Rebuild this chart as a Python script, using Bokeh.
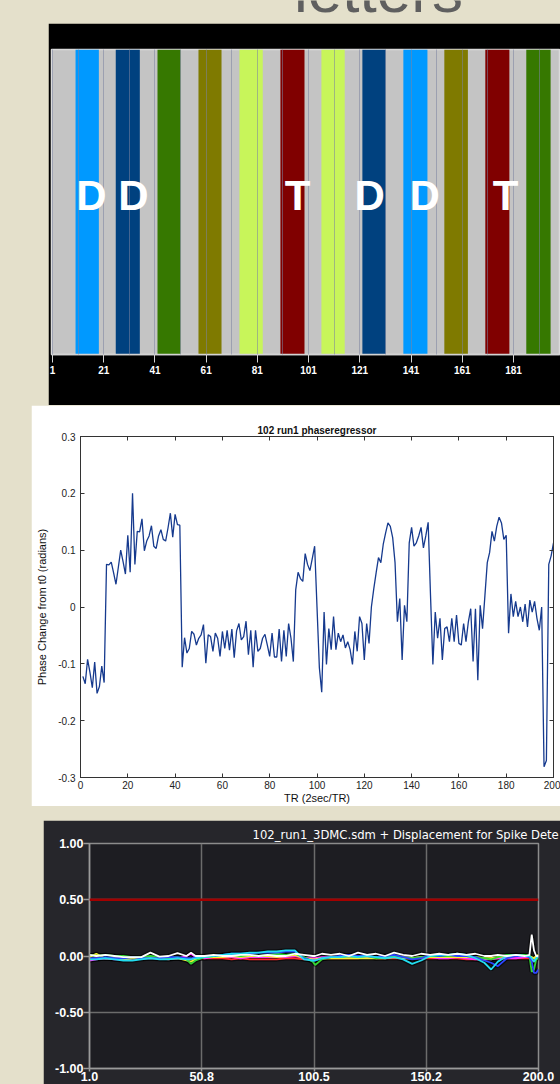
from bokeh.plotting import figure
from bokeh.models import FixedTicker, LinearAxis, Label, Span, Range1d, Spacer, ColumnDataSource
from bokeh.layouts import column, row
from bokeh.core.properties import value
from bokeh.embed import file_html
from bokeh.resources import INLINE

BEIGE = "#e4e0cb"

# ---------------- top panel: stimulus blocks ----------------
block_start = [10, 25.7, 42, 58, 74, 90, 106, 122, 138, 154, 170, 186]
block_end = [19.1, 35.1, 51, 67, 83.1, 99.4, 115.1, 131.1, 147.4, 163.2, 179.4, 195.5]
block_kind = ["lightblue", "darkblue", "green", "olive", "lime", "red",
              "lime", "darkblue", "lightblue", "olive", "red", "green"]
kind_color = {"lightblue": "#0099ff", "darkblue": "#00417f", "green": "#367800",
              "olive": "#7f7a00", "lime": "#c8f55a", "red": "#800000"}
letter_text = ["D", "D", "T", "D", "D", "T"]
letter_tr = [16.2, 32.6, 96.7, 124.8, 146.3, 177.9]
top_ticks = [1, 21, 41, 61, 81, 101, 121, 141, 161, 181]
top_grid = [1, 11, 21, 31, 41, 51, 61, 71, 81, 91, 101, 111, 121, 131, 141, 151, 161, 171, 181, 191]

# ---------------- middle panel: phase regressor ----------------
phase = [
    -0.122, -0.135, -0.092, -0.115, -0.142, -0.097, -0.152, -0.140, -0.104, -0.133,
    0.075, 0.074, 0.079, 0.060, 0.040, 0.070, 0.100, 0.080, 0.058, 0.126,
    0.061, 0.200, 0.075, 0.133, 0.132, 0.155, 0.099, 0.116, 0.125, 0.143,
    0.107, 0.103, 0.125, 0.136, 0.119, 0.116, 0.139, 0.165, 0.123, 0.163,
    0.145, 0.144,
    -0.106, -0.054, -0.081, -0.073, -0.043, -0.048, -0.067, -0.055, -0.049, -0.031,
    -0.099, -0.049, -0.052, -0.078, -0.046, -0.055, -0.087, -0.043, -0.073, -0.041,
    -0.076, -0.039, -0.089, -0.042, -0.029, -0.058, -0.052, -0.025, -0.084, -0.041,
    -0.106, -0.041, -0.078, -0.073, -0.055, -0.048, -0.067, -0.087, -0.046, -0.088,
    -0.088, -0.039, -0.096, -0.041, -0.087, -0.029, -0.055, -0.096,
    0.030, 0.061, 0.050, 0.045, 0.094, 0.075, 0.064, 0.085, 0.107, 0.000,
    -0.107, -0.150, -0.009, -0.101, -0.038, -0.075, -0.017, -0.075, -0.046, -0.061,
    -0.049, -0.072, -0.061, -0.075, -0.101, -0.043, -0.078, -0.017, -0.029, -0.093,
    -0.029, -0.064, 0.000, 0.032, 0.060, 0.087, 0.078, 0.110, 0.130, 0.148,
    0.142, 0.122, 0.078, -0.026, 0.015, -0.093, 0.003, -0.026, 0.113, 0.140,
    0.107, 0.113, 0.125, 0.140, 0.104, 0.125, 0.149, 0.020, -0.101, -0.009,
    -0.055, -0.020, -0.093, -0.038, -0.035, -0.061, -0.020, -0.061, -0.014, -0.064,
    -0.067, -0.029, -0.061, -0.026, -0.003, -0.096, -0.003, -0.129, 0.003, -0.038,
    0.020, 0.078, 0.096, 0.133, 0.116, 0.142, 0.158, 0.148, 0.119, 0.126,
    -0.046, 0.023, -0.017, 0.010, -0.017, 0.000, -0.026, 0.005, -0.035, 0.012,
    -0.009, 0.010, -0.020, -0.041, 0.000, -0.281, -0.270, 0.075, 0.090, 0.113,
]
tr = list(range(1, len(phase) + 1))
mid_xticks = [0, 20, 40, 60, 80, 100, 120, 140, 160, 180, 200]
mid_yticks = [-0.3, -0.2, -0.1, 0.0, 0.1, 0.2, 0.3]
mid_ylabels = ["-0.3", "-0.2", "-0.1", "0", "0.1", "0.2", "0.3"]

# ---------------- bottom panel: displacement ----------------
disp_x = [1, 4, 8, 12, 16, 20, 24, 28, 32, 36,
          40, 44, 46, 48, 52, 56, 60, 64, 68, 72,
          76, 80, 84, 88, 92, 96, 100, 101, 104, 108,
          112, 116, 120, 124, 128, 132, 136, 140, 144, 148,
          152, 156, 160, 164, 168, 172, 176, 179, 182, 186,
          190, 194, 196, 197, 198, 199, 200]
disp_red = [-0.03, -0.02, -0.02, -0.02, -0.03, -0.02, -0.02, -0.02, -0.02, -0.03,
            -0.02, -0.02, -0.03, -0.02, -0.02, -0.02, -0.02, -0.03, -0.02, -0.03,
            -0.03, -0.03, -0.03, -0.02, -0.02, -0.03, -0.03, -0.03, -0.02, -0.02,
            -0.02, -0.02, -0.02, -0.01, -0.02, -0.02, -0.02, -0.02, -0.02, -0.02,
            -0.02, -0.02, -0.02, -0.02, -0.03, -0.03, -0.03, -0.02, -0.02, -0.02,
            -0.02, -0.02, -0.02, -0.02, -0.02, -0.01, -0.01]
disp_magenta = [-0.04, -0.03, -0.02, -0.03, -0.03, -0.02, -0.02, -0.01, -0.02, -0.02,
                -0.02, 0.0, 0.02, -0.01, -0.02, -0.01, -0.01, -0.01, -0.02, -0.01,
                -0.01, -0.01, -0.01, -0.01, 0.0, -0.02, -0.02, -0.02, -0.01, -0.01,
                -0.01, 0.0, -0.01, -0.01, -0.01, 0.0, -0.01, -0.01, -0.02, -0.01,
                -0.01, -0.02, -0.02, -0.01, -0.02, -0.03, -0.03, -0.03, -0.02, -0.02,
                -0.02, -0.01, -0.01, -0.03, -0.05, -0.02, -0.01]
disp_yellow = [-0.01, 0.02, -0.02, -0.02, -0.03, -0.02, -0.02, -0.01, -0.02, -0.02,
               -0.02, -0.04, -0.05, -0.03, -0.01, -0.01, -0.01, 0.0, -0.01, 0.0,
               0.0, 0.0, -0.01, 0.0, 0.01, -0.02, -0.03, -0.03, -0.02, -0.02,
               -0.02, -0.02, -0.02, -0.02, -0.02, -0.02, -0.01, -0.02, -0.02, -0.01,
               -0.01, -0.01, -0.01, -0.01, -0.01, -0.01, -0.02, -0.02, -0.01, 0.0,
               0.0, 0.0, 0.0, -0.01, -0.02, 0.0, 0.01]
disp_green = [0.01, 0.0, 0.01, 0.0, 0.0, -0.01, -0.01, 0.0, -0.01, -0.02,
              -0.01, -0.03, -0.07, -0.04, -0.01, 0.0, 0.0, 0.01, 0.0, 0.01,
              0.0, 0.01, 0.02, 0.01, 0.02, -0.01, -0.05, -0.08, -0.03, -0.01,
              -0.01, 0.0, -0.01, 0.0, -0.02, -0.01, 0.0, -0.01, -0.02, -0.01,
              0.0, 0.0, 0.0, 0.01, 0.0, -0.01, -0.02, -0.03, -0.01, 0.01,
              0.01, 0.01, 0.0, -0.14, -0.12, -0.03, -0.02]
disp_blue = [-0.02, -0.02, -0.01, -0.02, -0.02, -0.01, -0.02, -0.02, -0.02, -0.01,
             -0.01, -0.02, -0.02, -0.01, 0.0, 0.0, 0.01, 0.02, 0.02, 0.02,
             0.03, 0.03, 0.03, 0.04, 0.04, -0.02, -0.04, -0.04, -0.02, -0.01,
             0.0, 0.01, 0.0, 0.0, -0.01, 0.0, 0.01, -0.01, -0.03, -0.02,
             0.01, 0.0, 0.01, 0.0, 0.0, -0.01, -0.04, -0.06, -0.09, -0.02,
             0.0, 0.0, -0.01, -0.05, -0.15, -0.15, -0.12]
disp_cyan = [-0.03, -0.03, -0.02, -0.03, -0.04, -0.04, -0.03, -0.02, -0.03, -0.03,
             -0.02, -0.03, -0.03, -0.02, -0.01, 0.0, 0.01, 0.02, 0.02, 0.03,
             0.03, 0.04, 0.04, 0.05, 0.05, -0.03, -0.04, -0.04, -0.02, -0.01,
             -0.01, 0.0, -0.01, 0.0, -0.01, -0.02, -0.01, -0.03, -0.07, -0.04,
             0.0, 0.01, 0.01, 0.02, 0.01, -0.02, -0.06, -0.12, -0.05, 0.0,
             0.01, 0.0, 0.0, -0.02, -0.05, -0.02, 0.0]
disp_white = [0.01, 0.0, 0.01, 0.0, -0.01, -0.01, -0.01, 0.03, -0.005, 0.0,
              0.025, 0.0, 0.03, 0.0, 0.0, 0.01, 0.0, 0.0, 0.01, 0.01,
              0.0, 0.01, 0.0, 0.0, 0.02, 0.01, 0.0, 0.0, 0.02, 0.01,
              0.02, 0.0, 0.03, 0.01, 0.02, 0.0, 0.03, 0.01, 0.0, 0.02,
              0.01, 0.02, 0.01, 0.02, 0.01, 0.02, 0.0, 0.0, 0.01, 0.0,
              0.01, 0.0, 0.01, 0.19, 0.05, 0.0, 0.0]
disp_series = [("red", disp_red), ("magenta", disp_magenta), ("yellow", disp_yellow),
               ("green", disp_green), ("blue", disp_blue), ("cyan", disp_cyan),
               ("white", disp_white)]
series_color = {"red": "#ff2a2a", "magenta": "#ff33ff", "yellow": "#f2f230",
                "green": "#33d633", "blue": "#2b45ff", "cyan": "#22dcef", "white": "#ffffff"}
disp_threshold = 0.5
bot_xticks = [1, 50.75, 100.5, 150.25, 200]
bot_xlabels = ["1.0", "50.8", "100.5", "150.2", "200.0"]
bot_yticks = [-1.0, -0.5, 0.0, 0.5, 1.0]
bot_ylabels = ["-1.00", "-0.50", "0.00", "0.50", "1.00"]

# ============ heading strip ============
ft = figure(width=560, height=23, x_range=Range1d(0, 560), y_range=Range1d(0, 23),
            toolbar_location=None, output_backend="svg", min_border=0, title=None,
            x_axis_location=None, y_axis_location=None)
ft.grid.visible = False
ft.outline_line_color = None
ft.background_fill_color = BEIGE
ft.border_fill_color = BEIGE
ft.add_layout(Label(x=378, y=16, y_offset=17, text="letters", text_align="center",
                    text_baseline="alphabetic", text_font="Liberation Sans",
                    text_font_size="62px", text_color="#5f5f5f"))

# ============ top: block design ============
p1 = figure(width=512, height=382, x_range=Range1d(0.61, 199.36), y_range=Range1d(0, 1),
            toolbar_location=None, output_backend="svg", y_axis_location=None, title=None,
            min_border_left=3, min_border_right=0, min_border_top=26, min_border_bottom=51)
p1.border_fill_color = "black"
p1.background_fill_color = "#c4c4c4"
p1.outline_line_color = "#dadada"
p1.outline_line_width = 1.5
src1 = ColumnDataSource(dict(left=block_start, right=block_end,
                             color=[kind_color[k] for k in block_kind]))
p1.quad(left="left", right="right", bottom=0, top=1, fill_color="color",
        line_color=None, source=src1)
p1.xgrid.ticker = FixedTicker(ticks=top_grid)
p1.xgrid.grid_line_color = "#7c84a0"
p1.xgrid.grid_line_alpha = 0.55
p1.xgrid.level = "guide"
p1.ygrid.visible = False
lt = p1.text(x=letter_tr, y=[0.52] * len(letter_tr), text=letter_text,
             text_font=value("Liberation Sans"), text_font_style="bold",
             text_font_size="42px", text_color="white", text_align="center",
             text_baseline="middle")
lt.level = "annotation"
ax = p1.xaxis[0]
ax.ticker = FixedTicker(ticks=top_ticks)
ax.axis_line_color = "#d4d4d4"
ax.axis_line_width = 1.5
ax.major_tick_line_color = "#d4d4d4"
ax.major_tick_out = 8
ax.major_tick_in = 0
ax.minor_tick_line_color = None
ax.major_label_text_color = "white"
ax.major_label_text_font = "Liberation Sans"
ax.major_label_text_font_style = "bold"
ax.major_label_text_font_size = "10px"
ax.major_label_standoff = 3

# ============ middle: phase regressor ============
p2 = figure(width=529, height=401, x_range=Range1d(0, 200), y_range=Range1d(-0.3, 0.3),
            toolbar_location=None, output_backend="svg",
            min_border_left=49, min_border_right=7, min_border_top=31, min_border_bottom=25)
p2.border_fill_color = "white"
p2.background_fill_color = "white"
p2.outline_line_color = "#333333"
p2.grid.visible = False
p2.title.text = "102 run1 phaseregressor"
p2.title.align = "center"
p2.title.text_font = "Liberation Sans"
p2.title.text_font_style = "bold"
p2.title.text_font_size = "10px"
p2.title.text_color = "#111111"
p2.title.standoff = 2
p2.line(tr, phase, line_color="#163a8e", line_width=1.3)
for a in (p2.xaxis[0], p2.yaxis[0]):
    a.major_tick_in = 4
    a.major_tick_out = 0
    a.minor_tick_line_color = None
    a.axis_line_color = "#333333"
    a.major_tick_line_color = "#333333"
    a.major_label_text_font = "Liberation Sans"
    a.major_label_text_font_size = "10px"
    a.major_label_text_color = "#222222"
    a.axis_label_text_font = "Liberation Sans"
    a.axis_label_text_font_size = "11px"
    a.axis_label_text_font_style = "normal"
    a.axis_label_text_color = "#111111"
p2.xaxis[0].ticker = FixedTicker(ticks=mid_xticks)
p2.xaxis[0].major_label_standoff = 3
p2.xaxis[0].axis_label = "TR (2sec/TR)"
p2.xaxis[0].axis_label_standoff = 0
p2.yaxis[0].ticker = FixedTicker(ticks=mid_yticks)
p2.yaxis[0].major_label_overrides = dict(zip(mid_yticks, mid_ylabels))
p2.yaxis[0].major_label_standoff = 5
p2.yaxis[0].axis_label = "Phase Change from t0 (radians)"
p2.yaxis[0].axis_label_standoff = 7
for loc, ticks in (("above", mid_xticks), ("right", mid_yticks)):
    extra = LinearAxis(ticker=FixedTicker(ticks=ticks),
                       major_label_overrides={t: "" for t in ticks},
                       major_label_text_font_size="1px",
                       major_label_standoff=0, major_tick_in=4, major_tick_out=0,
                       minor_tick_line_color=None, axis_line_color="#333333",
                       major_tick_line_color="#333333")
    p2.add_layout(extra, loc)

# ============ bottom: displacement ============
p3 = figure(width=517, height=264, x_range=Range1d(1, 200), y_range=Range1d(-1, 1),
            toolbar_location=None, output_backend="svg",
            min_border_left=46, min_border_right=22, min_border_top=23, min_border_bottom=16)
p3.border_fill_color = "#26262b"
p3.background_fill_color = "#1d1d22"
p3.outline_line_color = "#8c8c8c"
p3.outline_line_width = 1.5
p3.title.text = "102_run1_3DMC.sdm + Displacement for Spike Dete"
p3.title.align = "left"
p3.title.offset = 163
p3.title.text_color = "white"
p3.title.text_font = "DejaVu Sans"
p3.title.text_font_style = "normal"
p3.title.text_font_size = "11.6px"
p3.title.standoff = 4
p3.xgrid.ticker = FixedTicker(ticks=bot_xticks)
p3.ygrid.ticker = FixedTicker(ticks=bot_yticks)
p3.grid.grid_line_color = "#6c6c6c"
p3.grid.grid_line_width = 1.5
p3.add_layout(Span(location=disp_threshold, dimension="width",
                   line_color="#a30000", line_width=2.5))
for name, ys in disp_series:
    p3.line(disp_x, ys, line_color="black", line_width=4.5, line_alpha=0.55)
for name, ys in disp_series:
    p3.line(disp_x, ys, line_color=series_color[name], line_width=1.8)
for a in (p3.xaxis[0], p3.yaxis[0]):
    a.axis_line_color = "#9a9a9a"
    a.axis_line_width = 1.5
    a.major_tick_line_color = "#9a9a9a"
    a.major_tick_line_width = 1.5
    a.major_tick_in = 0
    a.minor_tick_line_color = None
    a.major_label_text_color = "white"
    a.major_label_text_font = "Liberation Sans"
    a.major_label_text_font_style = "bold"
    a.major_label_text_font_size = "12.5px"
p3.xaxis[0].ticker = FixedTicker(ticks=bot_xticks)
p3.xaxis[0].major_label_overrides = dict(zip(bot_xticks, bot_xlabels))
p3.xaxis[0].major_tick_out = 3
p3.xaxis[0].major_label_standoff = 0
p3.yaxis[0].ticker = FixedTicker(ticks=bot_yticks)
p3.yaxis[0].major_label_overrides = dict(zip(bot_yticks, bot_ylabels))
p3.yaxis[0].major_tick_out = 6
p3.yaxis[0].major_label_standoff = 0

root = column(
    ft,
    row(Spacer(width=48, height=382), p1),
    row(Spacer(width=31, height=401), p2),
    Spacer(width=560, height=14),
    row(Spacer(width=43, height=264), p3),
    styles={"background-color": BEIGE},
)

open("out.html", "w").write(file_html(root, INLINE))
